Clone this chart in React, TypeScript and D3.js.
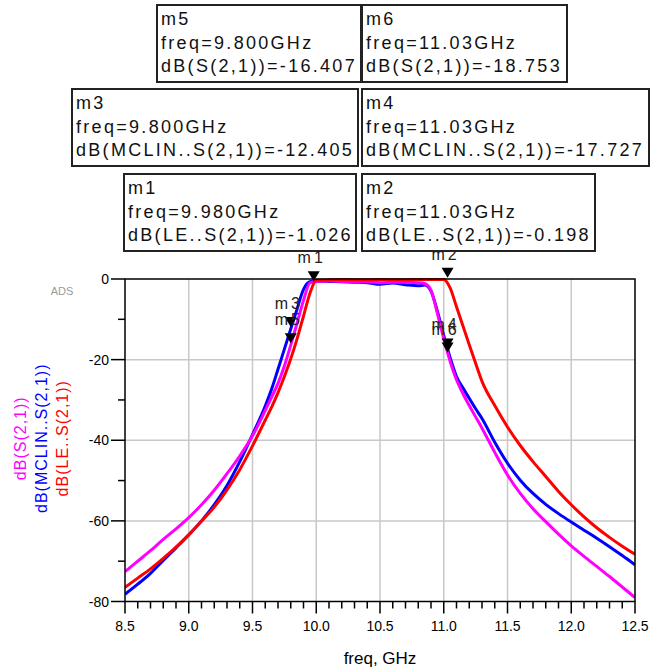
import React from "react";
import * as d3 from "d3";

// frequency points (GHz) shared by all three traces
const freqs = [
  8.5, 8.6, 8.7, 8.8, 8.9, 9.0, 9.1, 9.2, 9.3, 9.4, 9.5, 9.6,
  9.65, 9.7, 9.75, 9.8, 9.85, 9.9, 9.95,
  10.0, 10.1, 10.2, 10.3, 10.4, 10.5, 10.6, 10.7, 10.8,
  10.85, 10.9, 10.95, 11.0, 11.05, 11.1, 11.15, 11.2, 11.25, 11.3,
  11.4, 11.5, 11.6, 11.7, 11.8, 11.9, 12.0, 12.1, 12.2, 12.3, 12.4, 12.5,
];

// dB(S(2,1))
const s21 = [
  -72.6, -70.0, -67.4, -64.6, -62.0, -59.2, -56.0, -52.4, -48.3, -43.9, -38.9, -32.6,
  -29.3, -25.9, -21.6, -16.4, -10.9, -5.3, -1.0,
  -0.6, -0.5, -0.6, -0.7, -0.7, -0.9, -0.8, -0.8, -0.9,
  -1.1, -2.8, -8.5, -14.8, -20.4, -25.0, -28.4, -31.4, -34.2, -37.0,
  -43.0, -48.6, -53.2, -57.0, -60.2, -63.3, -66.2, -68.8, -71.3, -73.8, -76.4, -79.0,
];

// dB(MCLIN..S(2,1))
const mclinS21 = [
  -78.2, -75.7, -73.0, -69.8, -66.7, -63.5, -60.0, -56.0, -51.2, -45.3, -38.6, -31.5,
  -27.3, -22.4, -17.4, -12.4, -7.4, -2.6, -0.7,
  -0.5, -0.6, -0.7, -0.8, -0.9, -1.3, -1.0, -1.4, -1.7,
  -1.5, -3.0, -8.0, -14.0, -19.5, -24.2, -27.0, -29.6, -32.2, -34.6,
  -40.5, -45.7, -49.9, -53.2, -55.9, -58.2, -60.3, -62.3, -64.3, -66.4, -68.6, -70.9,
];

// dB(LE..S(2,1))
const leS21 = [
  -76.5, -74.2, -71.9, -69.3, -66.5, -63.4, -60.1, -56.6, -52.3, -47.3, -41.4, -35.0,
  -31.8, -28.2, -24.2, -19.8, -14.8, -9.2, -3.6,
  -0.3, -0.2, -0.1, -0.2, -0.2, -0.1, -0.2, -0.2, -0.1,
  -0.1, -0.1, -0.1, -0.1, -2.2, -6.9, -11.6, -16.3, -20.9, -25.4,
  -31.4, -36.7, -41.3, -45.3, -49.0, -52.7, -56.0, -59.0, -61.7, -64.1, -66.3, -68.3,
];

const traceNames = ["S(2,1)", "MCLIN..S(2,1)", "LE..S(2,1)"];
const traceValues = [s21, mclinS21, leS21];
const traceColors = ["#ff00ff", "#0000ff", "#ff0000"];

const markerNames = ["m1", "m2", "m3", "m4", "m5", "m6"];
const markerFreqs = [9.98, 11.03, 9.8, 11.03, 9.8, 11.03];
const markerValues = [-1.026, -0.198, -12.405, -17.727, -16.407, -18.753];
const markerTrace = [2, 2, 1, 1, 0, 0];

const xTicks = [8.5, 9.0, 9.5, 10.0, 10.5, 11.0, 11.5, 12.0, 12.5];
const yTicks = [0, -20, -40, -60, -80];

const W = 660;
const H = 672;
const font = "'Liberation Sans', Arial, sans-serif";

// plain hyphen for negative numbers, like the ADS readouts
const locale = d3.formatLocale({decimal: ".", thousands: ",", grouping: [3], currency: ["$", ""], minus: "-"});

// readout box placement, by marker index
const boxes = [
  {x: 124, y: 174, w: 232},
  {x: 362, y: 174, w: 233},
  {x: 72, y: 89, w: 286},
  {x: 362, y: 89, w: 287},
  {x: 157, y: 5, w: 204},
  {x: 362, y: 5, w: 205},
];

const App = () => {
  const left = 125, right = 635, top = 279, bottom = 601.5;

  const x = d3.scaleLinear().domain([8.5, 12.5]).range([left, right]);
  const y = d3.scaleLinear().domain([-80, 0]).range([bottom, top]);

  const line = d3.line<number>()
    .x((d, i) => x(freqs[i]))
    .y(d => y(d))
    .curve(d3.curveMonotoneX);

  const minorX = d3.range(85, 126).map(d => d / 10).filter(d => Math.abs(d * 2 - Math.round(d * 2)) > 1e-6);
  const minorY = [-10, -30, -50, -70];
  const fmtFreq = locale.format(".4r");
  const fmtVal = locale.format(".3f");

  return (
    <svg width={W} height={H} style={{position: "absolute", left: 0, top: 0, background: "#fff"}}
         fontFamily={font}>
      <defs>
        <clipPath id="plot">
          <rect x={left} y={top - 2} width={right - left} height={bottom - top + 4}/>
        </clipPath>
      </defs>

      {/* grid */}
      <g stroke="#c8c8c8" strokeWidth={1.5}>
        {xTicks.slice(1, -1).map(t => <line key={t} x1={x(t)} x2={x(t)} y1={top} y2={bottom}/>)}
        {yTicks.slice(1, -1).map(t => <line key={t} x1={left} x2={right} y1={y(t)} y2={y(t)}/>)}
      </g>

      {/* traces: blue, magenta, red on top */}
      <g clipPath="url(#plot)" fill="none" strokeWidth={3}>
        {[1, 0, 2].map(k => (
          <path key={k} d={line(traceValues[k]) || ""} stroke={traceColors[k]}/>
        ))}
      </g>

      {/* frame and ticks */}
      <rect x={left} y={top} width={right - left} height={bottom - top} fill="none" stroke="#000" strokeWidth={1.5}/>
      <g stroke="#000" strokeWidth={1.5}>
        {xTicks.map(t => <line key={t} x1={x(t)} x2={x(t)} y1={bottom} y2={bottom + 12}/>)}
        {minorX.map(t => <line key={t} x1={x(t)} x2={x(t)} y1={bottom} y2={bottom + 7}/>)}
        {yTicks.map(t => <line key={t} x1={left - 14} x2={left} y1={y(t)} y2={y(t)}/>)}
        {minorY.map(t => <line key={t} x1={left - 7} x2={left} y1={y(t)} y2={y(t)}/>)}
      </g>
      <g fontSize={14} fill="#000">
        {xTicks.map(t => (
          <text key={t} x={x(t)} y={bottom + 29} textAnchor="middle">{locale.format(".1f")(t)}</text>
        ))}
        {yTicks.map(t => (
          <text key={t} x={left - 16} y={y(t) + 5} textAnchor="end">{locale.format("d")(t)}</text>
        ))}
      </g>
      <text x={x(10.5)} y={664} textAnchor="middle" fontSize={17}>freq, GHz</text>
      <text x={62} y={295} textAnchor="middle" fontSize={11} fill="#9a9a9a">ADS</text>

      {/* y axis title, one line per trace */}
      <text transform={`translate(26, ${(top + bottom) / 2 - 2}) rotate(-90)`} textAnchor="middle"
            fontSize={16} style={{letterSpacing: 1}}>
        {traceNames.map((n, i) => (
          <tspan key={n} x={0} dy={i === 0 ? 0 : 21} fill={traceColors[i]}>{`dB(${n})`}</tspan>
        ))}
      </text>

      {/* markers */}
      {markerNames.map((m, i) => {
        const px = x(markerFreqs[i]);
        const py = y(markerValues[i]) - 2;
        return (
          <g key={m}>
            <path d={`M${px},${py} L${px - 6},${py - 10} L${px + 6},${py - 10} Z`} fill="#000"/>
            <text x={px - 2} y={y(markerValues[i]) - 20} textAnchor="middle" fontSize={16}
                  fill="#222" style={{letterSpacing: 3}}>{m}</text>
          </g>
        );
      })}

      {/* marker readouts */}
      {markerNames.map((m, i) => {
        const b = boxes[i];
        return (
          <g key={m}>
            <rect x={b.x} y={b.y} width={b.w} height={77} fill="#fff" stroke="#222" strokeWidth={2}/>
            <text x={b.x + 4} y={b.y + 20} fontSize={18} fill="#111" style={{letterSpacing: 2.3}}>
              <tspan x={b.x + 4}>{m}</tspan>
              <tspan x={b.x + 4} dy={23.5}>{`freq=${fmtFreq(markerFreqs[i])}GHz`}</tspan>
              <tspan x={b.x + 4} dy={23.5}>{`dB(${traceNames[markerTrace[i]]})=${fmtVal(markerValues[i])}`}</tspan>
            </text>
          </g>
        );
      })}
    </svg>
  );
};

export default App;
